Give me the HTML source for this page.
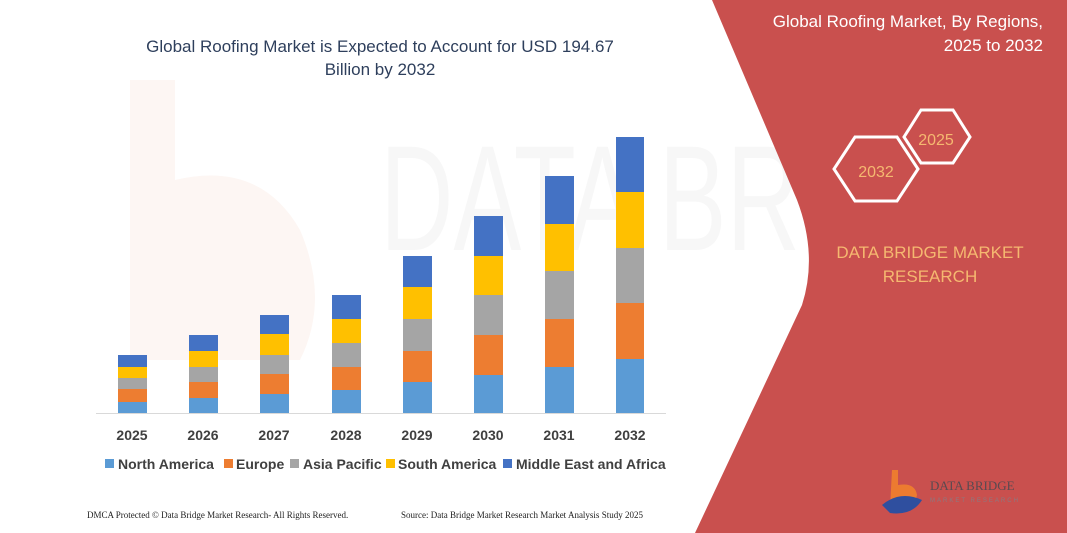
<!DOCTYPE html>
<html><head><meta charset="utf-8"><style>
html,body{margin:0;padding:0;background:#fff;}
svg{display:block;}
</style></head><body>
<svg width="1067" height="533" viewBox="0 0 1067 533" xmlns="http://www.w3.org/2000/svg" font-family="'Liberation Sans', sans-serif">
<rect width="1067" height="533" fill="#fff"/>
<!-- faint watermark -->
<path d="M130,80 L175,80 L175,180 Q260,160 300,230 Q330,300 300,360 L130,360 Z" fill="#fdf6f3"/>
<text x="380" y="250" font-size="150" fill="#f7f7f7" textLength="420" lengthAdjust="spacingAndGlyphs">DATA BR</text>
<!-- red panel -->
<path d="M712,0 L1067,0 L1067,533 L695,533 L802,305 Q818,255 797,200 Z" fill="#c9504e"/>
<text x="1043" y="27" font-size="17" fill="#fff" text-anchor="end">Global Roofing Market, By Regions,</text>
<text x="1043" y="51" font-size="17" fill="#fff" text-anchor="end">2025 to 2032</text>
<polygon points="855,137 897,137 918,169 897,201 855,201 834,169" fill="none" stroke="#fff" stroke-width="3"/>
<polygon points="921,110 953,110 970,137 953,163 921,163 904,137" fill="none" stroke="#fff" stroke-width="3"/>
<text x="876" y="177" font-size="16" fill="#f5b870" text-anchor="middle">2032</text>
<text x="936" y="145" font-size="16" fill="#f5b870" text-anchor="middle">2025</text>
<text x="930" y="258" font-size="17" fill="#f5b870" text-anchor="middle">DATA BRIDGE MARKET</text>
<text x="930" y="282" font-size="17" fill="#f5b870" text-anchor="middle">RESEARCH</text>
<path d="M892,470 L898,470 L898,485 Q915,482 917,495 Q915,508 898,508 L890,508 Z" fill="#ec7b30"/>
<path d="M882,505 Q900,490 922,500 Q912,516 890,513 Z" fill="#2f4f9f"/>
<text x="930" y="490" font-size="13" fill="#5a4a50" font-family="'Liberation Serif', serif">DATA BRIDGE</text>
<text x="930" y="502" font-size="6" fill="#8a7a80" letter-spacing="2">MARKET RESEARCH</text>
<!-- title -->
<text x="380" y="52" font-size="17" fill="#2e3f5c" text-anchor="middle">Global Roofing Market is Expected to Account for USD 194.67</text>
<text x="380" y="75" font-size="17" fill="#2e3f5c" text-anchor="middle">Billion by 2032</text>
<!-- axis -->
<line x1="96" y1="413.5" x2="666" y2="413.5" stroke="#d9d9d9" stroke-width="1"/>
<g>
<rect x="118" y="355" width="29" height="12" fill="#4472c4"/><rect x="118" y="367" width="29" height="11" fill="#ffc000"/><rect x="118" y="378" width="29" height="11" fill="#a5a5a5"/><rect x="118" y="389" width="29" height="13" fill="#ed7d31"/><rect x="118" y="402" width="29" height="11" fill="#5b9bd5"/>
<rect x="189" y="335" width="29" height="16" fill="#4472c4"/><rect x="189" y="351" width="29" height="16" fill="#ffc000"/><rect x="189" y="367" width="29" height="15" fill="#a5a5a5"/><rect x="189" y="382" width="29" height="16" fill="#ed7d31"/><rect x="189" y="398" width="29" height="15" fill="#5b9bd5"/>
<rect x="260" y="315" width="29" height="19" fill="#4472c4"/><rect x="260" y="334" width="29" height="21" fill="#ffc000"/><rect x="260" y="355" width="29" height="19" fill="#a5a5a5"/><rect x="260" y="374" width="29" height="20" fill="#ed7d31"/><rect x="260" y="394" width="29" height="19" fill="#5b9bd5"/>
<rect x="332" y="295" width="29" height="24" fill="#4472c4"/><rect x="332" y="319" width="29" height="24" fill="#ffc000"/><rect x="332" y="343" width="29" height="24" fill="#a5a5a5"/><rect x="332" y="367" width="29" height="23" fill="#ed7d31"/><rect x="332" y="390" width="29" height="23" fill="#5b9bd5"/>
<rect x="403" y="256" width="29" height="31" fill="#4472c4"/><rect x="403" y="287" width="29" height="32" fill="#ffc000"/><rect x="403" y="319" width="29" height="32" fill="#a5a5a5"/><rect x="403" y="351" width="29" height="31" fill="#ed7d31"/><rect x="403" y="382" width="29" height="31" fill="#5b9bd5"/>
<rect x="474" y="216" width="29" height="40" fill="#4472c4"/><rect x="474" y="256" width="29" height="39" fill="#ffc000"/><rect x="474" y="295" width="29" height="40" fill="#a5a5a5"/><rect x="474" y="335" width="29" height="40" fill="#ed7d31"/><rect x="474" y="375" width="29" height="38" fill="#5b9bd5"/>
<rect x="545" y="176" width="29" height="48" fill="#4472c4"/><rect x="545" y="224" width="29" height="47" fill="#ffc000"/><rect x="545" y="271" width="29" height="48" fill="#a5a5a5"/><rect x="545" y="319" width="29" height="48" fill="#ed7d31"/><rect x="545" y="367" width="29" height="46" fill="#5b9bd5"/>
<rect x="616" y="137" width="28" height="55" fill="#4472c4"/><rect x="616" y="192" width="28" height="56" fill="#ffc000"/><rect x="616" y="248" width="28" height="55" fill="#a5a5a5"/><rect x="616" y="303" width="28" height="56" fill="#ed7d31"/><rect x="616" y="359" width="28" height="54" fill="#5b9bd5"/>
</g>
<g font-size="14" font-weight="bold" fill="#404040" text-anchor="middle">
<text x="132" y="440">2025</text><text x="203" y="440">2026</text><text x="274" y="440">2027</text><text x="346" y="440">2028</text><text x="417" y="440">2029</text><text x="488" y="440">2030</text><text x="559" y="440">2031</text><text x="630" y="440">2032</text>
</g>
<g font-size="14" font-weight="bold" fill="#404040">
<rect x="105" y="459" width="9" height="9" fill="#5b9bd5"/><text x="118" y="469">North America</text>
<rect x="224" y="459" width="9" height="9" fill="#ed7d31"/><text x="236" y="469">Europe</text>
<rect x="290" y="459" width="9" height="9" fill="#a5a5a5"/><text x="303" y="469">Asia Pacific</text>
<rect x="386" y="459" width="9" height="9" fill="#ffc000"/><text x="398" y="469">South America</text>
<rect x="503" y="459" width="9" height="9" fill="#4472c4"/><text x="516" y="469">Middle East and Africa</text>
</g>
<g font-size="9" fill="#222" font-family="'Liberation Serif', serif">
<text x="87" y="518">DMCA Protected © Data Bridge Market Research-  All Rights Reserved.</text>
<text x="401" y="518">Source: Data Bridge Market Research  Market Analysis Study 2025</text>
</g>
</svg>
</body></html>
